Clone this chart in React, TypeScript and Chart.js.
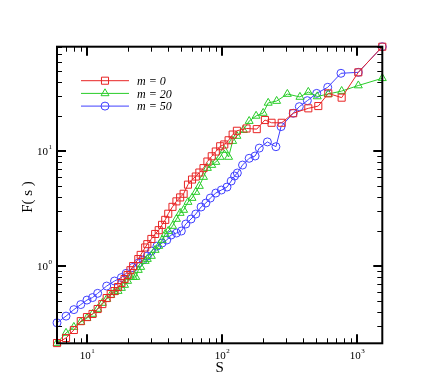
import React, { useEffect, useRef } from "react";
import { Chart, registerables } from "chart.js";

Chart.register(...registerables);

// ---- data ----
const seriesNames = ["m = 0", "m = 20", "m = 50"];
const seriesColors = ["rgb(232,36,36)", "rgb(40,204,40)", "rgb(64,64,255)"];
const seriesMarkers = ["rect", "triangle", "circle"];

const sRed = [6, 7, 8, 9, 10, 11, 12, 13, 14, 15, 16, 17, 18, 19, 20, 21, 22, 24, 25, 27, 28, 30, 32, 34, 36, 38, 40, 43, 46, 49, 52, 56, 60, 64, 68, 73, 78, 84, 90, 97, 104, 112, 120, 129, 152, 181, 208, 233, 277, 337, 436, 517, 613, 770, 1023, 1540];
const fRed = [0.214, 0.237, 0.278, 0.332, 0.36, 0.383, 0.423, 0.467, 0.527, 0.571, 0.606, 0.657, 0.712, 0.771, 0.835, 0.92, 1.0, 1.15, 1.25, 1.45, 1.55, 1.72, 1.9, 2.05, 2.28, 2.52, 2.85, 3.27, 3.65, 3.95, 4.25, 5.1, 5.65, 6.0, 6.5, 7.1, 8.1, 9.0, 9.9, 11.0, 11.4, 12.4, 13.9, 15.0, 15.7, 15.5, 18.6, 17.6, 17.6, 21.3, 23.5, 24.6, 31.7, 29.1, 48.3, 80.7];

const sGreen = [6, 7, 8, 9, 10, 11, 12, 13, 14, 15, 16, 17, 18, 19, 20, 21, 22, 23, 24, 25, 27, 28, 30, 32, 34, 36, 38, 40, 43, 46, 49, 52, 56, 60, 64, 68, 73, 78, 84, 90, 97, 104, 112, 120, 129, 144, 159, 179, 202, 220, 254, 305, 378, 436, 508, 613, 770, 1023, 1540];
const fGreen = [0.214, 0.262, 0.295, 0.326, 0.353, 0.383, 0.423, 0.477, 0.516, 0.56, 0.594, 0.606, 0.644, 0.684, 0.741, 0.802, 0.802, 0.802, 0.923, 0.98, 1.105, 1.15, 1.222, 1.378, 1.492, 1.683, 1.898, 2.015, 2.228, 2.563, 2.89, 3.07, 3.6, 3.9, 4.4, 4.96, 5.94, 7.11, 7.55, 8.02, 8.87, 10.2, 8.87, 12.2, 13.5, 15.2, 18.2, 20.2, 21.4, 26.2, 27.2, 31.3, 29.5, 32.6, 29.8, 31.3, 33.2, 37.1, 42.9];

const sBlue = [6, 7, 8, 9, 10, 11, 12, 14, 16, 18, 19.5, 22, 24, 26, 28, 30, 33, 36, 39, 42, 46, 50, 54, 59, 64, 70, 76, 82, 90, 99, 109, 117, 124, 130, 142, 159, 176, 189, 217, 251, 274, 337, 374, 429, 503, 607, 761, 1023, 1540];
const fBlue = [0.321, 0.367, 0.418, 0.4625, 0.506, 0.532, 0.579, 0.67, 0.741, 0.794, 0.864, 0.97, 1.062, 1.128, 1.222, 1.35, 1.49, 1.585, 1.683, 1.86, 1.936, 2.015, 2.319, 2.563, 2.833, 3.26, 3.53, 3.9, 4.31, 4.58, 4.86, 5.48, 6.06, 6.44, 7.55, 8.64, 9.05, 10.6, 12.0, 10.9, 16.3, 21.3, 24.3, 27.4, 31.7, 35.8, 47.4, 48.3, 80.7];

const xRange = [6, 1540];
const yRange = [0.213, 80.7];
const xMajorTicks = [10, 100, 1000];
const yMajorTicks = [1, 10];
const xTickExponents = ["1", "2", "3"];
const yTickExponents = ["0", "1"];
const xTitle = "S";
const yTitle = "F( s )";

const SERIF = '"Liberation Serif", "DejaVu Serif", serif';

function markerPath(ctx: CanvasRenderingContext2D, style: string, x: number, y: number, r: number) {
  ctx.beginPath();
  if (style === "rect") {
    const h = r * Math.SQRT1_2;
    ctx.rect(x - h, y - h, 2 * h, 2 * h);
  } else if (style === "triangle") {
    let rad = 0;
    ctx.moveTo(x + Math.sin(rad) * r, y - Math.cos(rad) * r);
    rad += (2 * Math.PI) / 3;
    ctx.lineTo(x + Math.sin(rad) * r, y - Math.cos(rad) * r);
    rad += (2 * Math.PI) / 3;
    ctx.lineTo(x + Math.sin(rad) * r, y - Math.cos(rad) * r);
    ctx.closePath();
  } else {
    ctx.arc(x, y, r, 0, Math.PI * 2);
  }
  ctx.stroke();
}

const markerRadius: Record<string, number> = { rect: 5, triangle: 4.6, circle: 4 };

const framePlugin = {
  id: "frameAxes",
  afterDatasetsDraw(chart: any) {
    const { ctx, chartArea: a, scales } = chart;
    const xs = scales.x;
    const ys = scales.y;
    ctx.save();
    ctx.strokeStyle = "#000";
    ctx.lineCap = "butt";

    // minor ticks
    ctx.lineWidth = 1;
    for (let d = 1; d <= 1000; d *= 10) {
      for (let k = 2; k <= 9; k++) {
        const v = k * d;
        if (v > xRange[0] && v < xRange[1]) {
          const px = Math.round(xs.getPixelForValue(v)) + 0.5;
          ctx.beginPath();
          ctx.moveTo(px, a.bottom);
          ctx.lineTo(px, a.bottom - 5);
          ctx.moveTo(px, a.top);
          ctx.lineTo(px, a.top + 5);
          ctx.stroke();
        }
      }
    }
    for (let d = 0.1; d <= 10.01; d *= 10) {
      for (let k = 2; k <= 9; k++) {
        const v = k * d;
        if (v > yRange[0] && v < yRange[1]) {
          const py = Math.round(ys.getPixelForValue(v)) + 0.5;
          ctx.beginPath();
          ctx.moveTo(a.left, py);
          ctx.lineTo(a.left + 5, py);
          ctx.moveTo(a.right, py);
          ctx.lineTo(a.right - 5, py);
          ctx.stroke();
        }
      }
    }

    // major ticks
    ctx.lineWidth = 2;
    xMajorTicks.forEach((v) => {
      const px = Math.round(xs.getPixelForValue(v));
      ctx.beginPath();
      ctx.moveTo(px, a.bottom);
      ctx.lineTo(px, a.bottom - 9);
      ctx.moveTo(px, a.top);
      ctx.lineTo(px, a.top + 9);
      ctx.stroke();
    });
    yMajorTicks.forEach((v) => {
      const py = Math.round(ys.getPixelForValue(v));
      ctx.beginPath();
      ctx.moveTo(a.left, py);
      ctx.lineTo(a.left + 9, py);
      ctx.moveTo(a.right, py);
      ctx.lineTo(a.right - 9, py);
      ctx.stroke();
    });

    // frame
    ctx.lineWidth = 2;
    ctx.strokeRect(a.left, a.top, a.right - a.left, a.bottom - a.top);

    // tick labels
    ctx.fillStyle = "#000";
    const baseFont = `11px ${SERIF}`;
    const supFont = `7px ${SERIF}`;
    xMajorTicks.forEach((v, i) => {
      const px = xs.getPixelForValue(v);
      ctx.font = baseFont;
      const w1 = ctx.measureText("10").width;
      ctx.font = supFont;
      const w2 = ctx.measureText(xTickExponents[i]).width;
      const x0 = px - (w1 + w2) / 2;
      ctx.textBaseline = "alphabetic";
      ctx.textAlign = "left";
      ctx.font = baseFont;
      ctx.fillText("10", x0, a.bottom + 16);
      ctx.font = supFont;
      ctx.fillText(xTickExponents[i], x0 + w1 + 0.5, a.bottom + 10);
    });
    yMajorTicks.forEach((v, i) => {
      const py = ys.getPixelForValue(v);
      ctx.font = baseFont;
      const w1 = ctx.measureText("10").width;
      ctx.font = supFont;
      const w2 = ctx.measureText(yTickExponents[i]).width;
      const xr = a.left - 5;
      const x0 = xr - w2 - 0.5 - w1;
      ctx.textBaseline = "alphabetic";
      ctx.textAlign = "left";
      ctx.font = baseFont;
      ctx.fillText("10", x0, py + 4);
      ctx.font = supFont;
      ctx.fillText(yTickExponents[i], x0 + w1 + 0.5, py - 2);
    });

    // axis titles
    ctx.font = `15px ${SERIF}`;
    ctx.textAlign = "center";
    ctx.textBaseline = "middle";
    ctx.fillText(xTitle, (a.left + a.right) / 2, a.bottom + 25);
    ctx.save();
    ctx.translate(20, (a.top + a.bottom) / 2 + 2);
    ctx.rotate(-Math.PI / 2);
    ctx.fillText(yTitle, 0, 0);
    ctx.restore();

    // legend
    const lx0 = a.left + 24;
    const lx1 = a.left + 72;
    const ly0 = a.top + 34;
    const lstep = 12.7;
    seriesNames.forEach((name, i) => {
      const y = ly0 + i * lstep;
      ctx.strokeStyle = seriesColors[i];
      ctx.lineWidth = 1;
      ctx.beginPath();
      ctx.moveTo(lx0, y);
      ctx.lineTo(lx1, y);
      ctx.stroke();
      markerPath(ctx, seriesMarkers[i], (lx0 + lx1) / 2, y, markerRadius[seriesMarkers[i]]);
      ctx.fillStyle = "#000";
      ctx.font = `italic 12px ${SERIF}`;
      ctx.textAlign = "left";
      ctx.textBaseline = "middle";
      ctx.fillText(name, lx1 + 8, y + 1);
    });

    ctx.restore();
  },
};

function toPoints(xs: number[], ys: number[]) {
  return xs.map((x, i) => ({ x, y: ys[i] }));
}

export default function App() {
  const ref = useRef<HTMLCanvasElement | null>(null);

  useEffect(() => {
    if (!ref.current) return;
    const series = [
      toPoints(sRed, fRed),
      toPoints(sGreen, fGreen),
      toPoints(sBlue, fBlue),
    ];
    const chart = new Chart(ref.current, {
      type: "line",
      data: {
        datasets: series.map((pts, i) => ({
          label: seriesNames[i],
          data: pts,
          borderColor: seriesColors[i],
          backgroundColor: "transparent",
          borderWidth: 1,
          pointStyle: seriesMarkers[i] as any,
          pointRadius: markerRadius[seriesMarkers[i]],
          pointBorderWidth: 1,
          pointBorderColor: seriesColors[i],
          pointBackgroundColor: "transparent",
          tension: 0,
          clip: false as any,
        })),
      },
      options: {
        animation: false,
        responsive: false,
        events: [],
        layout: { padding: { left: 49, right: 45.7, top: 38.7, bottom: 36.7 } },
        scales: {
          x: { type: "logarithmic", min: xRange[0], max: xRange[1], display: false },
          y: { type: "logarithmic", min: yRange[0], max: yRange[1], display: false },
        },
        plugins: {
          legend: { display: false },
          tooltip: { enabled: false },
        },
      },
      plugins: [framePlugin],
    });
    return () => chart.destroy();
  }, []);

  return (
    <div style={{ width: 420, height: 372 }}>
      <canvas ref={ref} width={420} height={372} style={{ display: "block" }} />
    </div>
  );
}
